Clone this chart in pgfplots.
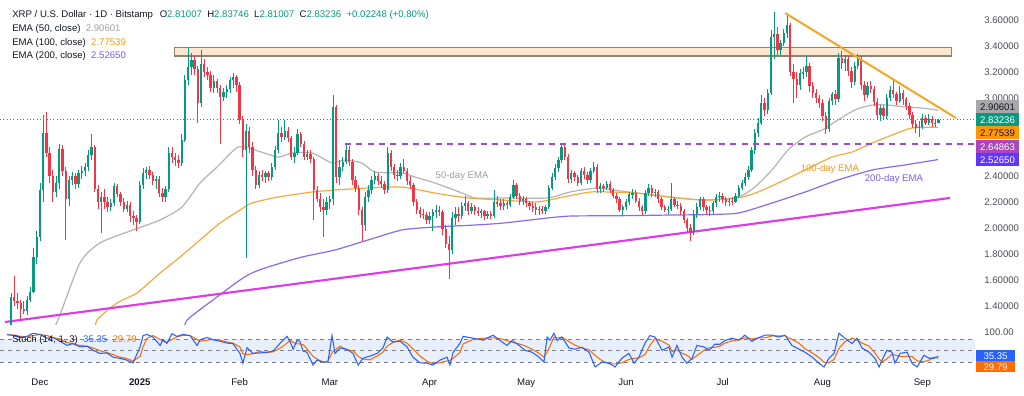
\documentclass[border=0pt]{standalone}
\usepackage{pgfplots}
\usepackage{pgfplotstable}
\pgfplotsset{compat=1.18}
\usepackage{fontspec}
\setmainfont{Liberation Sans}
\definecolor{upc}{HTML}{089981}
\definecolor{dnc}{HTML}{F23645}
\definecolor{ema50}{HTML}{B4B4B4}
\definecolor{ema100}{HTML}{F5AA3C}
\definecolor{ema200}{HTML}{8B6BEB}
\definecolor{magl}{HTML}{DD3BE8}
\definecolor{trendo}{HTML}{F5A623}
\definecolor{purd}{HTML}{9C4DCC}
\definecolor{zonef}{HTML}{FCE8D0}
\definecolor{zoned}{HTML}{8F8070}
\definecolor{txt}{HTML}{131722}
\definecolor{lab}{HTML}{4A4E59}
\definecolor{stk}{HTML}{2962FF}
\definecolor{std}{HTML}{FF6D00}
\definecolor{band}{HTML}{E8EFFD}
\definecolor{sepc}{HTML}{E0E3EB}
\definecolor{ema50t}{HTML}{A0A0A0}
\definecolor{ema100t}{HTML}{F29A1E}
\definecolor{ema200t}{HTML}{7B5CF0}
\definecolor{boxgray}{HTML}{A8A8AA}
\definecolor{boxorange}{HTML}{FF9800}
\definecolor{boxpurple}{HTML}{AB47BC}
\definecolor{boxblue}{HTML}{6236FF}
\newcommand\fs{\fontsize{7.2}{8.6}\selectfont}

\pgfplotstableread{
d o h l c
-9 1.12 1.50 1.10 1.47
-8 1.47 1.63 1.40 1.44
-7 1.44 1.50 1.38 1.42
-6 1.42 1.45 1.30 1.38
-5 1.38 1.44 1.34 1.36
-4 1.36 1.48 1.33 1.45
-3 1.45 1.55 1.43 1.51
-2 1.51 1.85 1.50 1.78
-1 1.78 1.98 1.72 1.93
0 1.93 2.35 1.90 2.29
1 2.29 2.87 2.20 2.73
2 2.73 2.89 2.55 2.58
3 2.58 2.62 2.35 2.40
4 2.40 2.45 2.20 2.28
5 2.28 2.40 2.24 2.35
6 2.35 2.65 2.30 2.61
7 2.61 2.64 2.40 2.44
8 2.44 2.47 1.91 2.22
9 2.22 2.40 2.17 2.37
10 2.37 2.43 2.33 2.40
11 2.40 2.42 2.30 2.34
12 2.34 2.45 2.31 2.42
13 2.42 2.48 2.38 2.44
14 2.44 2.50 2.40 2.47
15 2.47 2.60 2.44 2.56
16 2.56 2.72 2.52 2.62
17 2.62 2.64 2.28 2.30
18 2.30 2.33 2.15 2.20
19 2.20 2.28 1.96 2.24
20 2.24 2.30 2.15 2.20
21 2.20 2.24 2.12 2.16
22 2.16 2.22 2.13 2.19
23 2.19 2.35 2.17 2.32
24 2.32 2.34 2.24 2.26
25 2.26 2.28 2.17 2.20
26 2.20 2.23 2.12 2.15
27 2.15 2.21 2.12 2.18
28 2.18 2.20 2.05 2.09
29 2.09 2.13 2.02 2.08
30 2.08 2.10 1.98 2.05
31 2.05 2.36 2.03 2.33
32 2.33 2.46 2.30 2.42
33 2.42 2.47 2.38 2.45
34 2.45 2.48 2.38 2.41
35 2.41 2.43 2.33 2.36
36 2.36 2.40 2.30 2.38
37 2.38 2.40 2.24 2.27
38 2.27 2.31 2.20 2.24
39 2.24 2.32 2.20 2.30
40 2.30 2.62 2.28 2.58
41 2.58 2.62 2.50 2.55
42 2.55 2.58 2.48 2.52
43 2.52 2.56 2.46 2.50
44 2.50 2.72 2.48 2.68
45 2.68 3.18 2.66 3.14
46 3.14 3.39 3.10 3.24
47 3.24 3.35 3.18 3.29
48 3.29 3.32 3.18 3.22
49 3.22 3.25 2.81 2.96
50 2.96 3.37 2.93 3.26
51 3.26 3.30 3.16 3.20
52 3.20 3.24 3.14 3.18
53 3.18 3.21 3.05 3.08
54 3.08 3.18 3.04 3.13
55 3.13 3.15 3.04 3.08
56 3.08 3.10 2.65 3.01
57 3.01 3.08 2.98 3.05
58 3.05 3.10 3.00 3.07
59 3.07 3.16 3.04 3.14
60 3.14 3.19 3.08 3.16
61 3.16 3.18 3.05 3.10
62 3.10 3.12 2.80 2.83
63 2.83 2.86 2.55 2.60
64 2.60 2.80 1.77 2.75
65 2.75 2.78 2.58 2.62
66 2.62 2.66 2.40 2.45
67 2.45 2.48 2.30 2.33
68 2.33 2.44 2.31 2.41
69 2.41 2.45 2.36 2.39
70 2.39 2.44 2.35 2.42
71 2.42 2.44 2.36 2.39
72 2.39 2.50 2.37 2.47
73 2.47 2.63 2.45 2.60
74 2.60 2.83 2.58 2.73
75 2.73 2.78 2.66 2.70
76 2.70 2.83 2.68 2.75
77 2.75 2.78 2.66 2.69
78 2.69 2.71 2.52 2.55
79 2.55 2.62 2.50 2.58
80 2.58 2.76 2.56 2.72
81 2.72 2.74 2.62 2.65
82 2.65 2.67 2.52 2.55
83 2.55 2.60 2.52 2.57
84 2.57 2.60 2.50 2.53
85 2.53 2.55 2.06 2.29
86 2.29 2.32 2.20 2.22
87 2.22 2.27 2.12 2.16
88 2.16 2.22 1.93 2.14
89 2.14 2.24 2.10 2.20
90 2.20 2.25 2.15 2.22
91 2.22 3.02 2.18 2.93
92 2.93 2.95 2.35 2.39
93 2.39 2.52 2.33 2.47
94 2.47 2.55 2.44 2.51
95 2.51 2.65 2.49 2.60
96 2.60 2.63 2.48 2.51
97 2.51 2.53 2.33 2.37
98 2.37 2.40 2.28 2.31
99 2.31 2.33 2.10 2.14
100 2.14 2.16 1.90 2.02
101 2.02 2.28 1.98 2.24
102 2.24 2.33 2.20 2.29
103 2.29 2.40 2.26 2.37
104 2.37 2.44 2.34 2.40
105 2.40 2.42 2.33 2.36
106 2.36 2.40 2.31 2.34
107 2.34 2.36 2.26 2.29
108 2.29 2.62 2.27 2.58
109 2.58 2.60 2.44 2.47
110 2.47 2.49 2.38 2.41
111 2.41 2.45 2.36 2.40
112 2.40 2.50 2.38 2.47
113 2.47 2.53 2.42 2.44
114 2.44 2.46 2.33 2.36
115 2.36 2.40 2.30 2.33
116 2.33 2.35 2.17 2.20
117 2.20 2.22 2.11 2.14
118 2.14 2.16 2.08 2.11
119 2.11 2.15 2.07 2.10
120 2.10 2.12 2.03 2.06
121 2.06 2.12 2.03 2.09
122 2.09 2.15 1.98 2.12
123 2.12 2.18 2.08 2.14
124 2.14 2.17 2.09 2.12
125 2.12 2.14 1.95 1.99
126 1.99 2.02 1.85 1.88
127 1.88 1.94 1.61 1.83
128 1.83 2.12 1.80 2.08
129 2.08 2.16 2.02 2.11
130 2.11 2.16 2.05 2.09
131 2.09 2.20 2.07 2.17
132 2.17 2.25 2.13 2.19
133 2.19 2.21 2.10 2.13
134 2.13 2.19 2.11 2.16
135 2.16 2.18 2.10 2.13
136 2.13 2.16 2.09 2.12
137 2.12 2.15 2.08 2.13
138 2.13 2.14 2.06 2.09
139 2.09 2.13 2.07 2.11
140 2.11 2.13 2.07 2.09
141 2.09 2.29 2.08 2.20
142 2.20 2.25 2.16 2.19
143 2.19 2.22 2.14 2.17
144 2.17 2.22 2.14 2.19
145 2.19 2.21 2.15 2.18
146 2.18 2.26 2.16 2.24
147 2.24 2.37 2.22 2.33
148 2.33 2.35 2.22 2.25
149 2.25 2.27 2.18 2.21
150 2.21 2.25 2.18 2.22
151 2.22 2.24 2.16 2.19
152 2.19 2.21 2.14 2.17
153 2.17 2.20 2.12 2.16
154 2.16 2.19 2.10 2.14
155 2.14 2.17 2.10 2.15
156 2.15 2.17 2.11 2.13
157 2.13 2.18 2.11 2.16
158 2.16 2.33 2.15 2.31
159 2.31 2.42 2.29 2.39
160 2.39 2.49 2.37 2.46
161 2.46 2.55 2.43 2.52
162 2.52 2.65 2.50 2.62
163 2.62 2.65 2.52 2.55
164 2.55 2.57 2.35 2.38
165 2.38 2.45 2.35 2.42
166 2.42 2.44 2.36 2.39
167 2.39 2.41 2.32 2.35
168 2.35 2.46 2.33 2.44
169 2.44 2.47 2.38 2.41
170 2.41 2.43 2.34 2.37
171 2.37 2.46 2.35 2.44
172 2.44 2.51 2.42 2.47
173 2.47 2.49 2.27 2.30
174 2.30 2.35 2.27 2.32
175 2.32 2.34 2.28 2.31
176 2.31 2.36 2.29 2.34
177 2.34 2.36 2.27 2.29
178 2.29 2.31 2.23 2.25
179 2.25 2.27 2.19 2.22
180 2.22 2.24 2.12 2.14
181 2.14 2.18 2.10 2.16
182 2.16 2.22 2.14 2.20
183 2.20 2.28 2.18 2.26
184 2.26 2.30 2.22 2.27
185 2.27 2.29 2.19 2.21
186 2.21 2.23 2.13 2.16
187 2.16 2.18 2.10 2.13
188 2.13 2.29 2.11 2.27
189 2.27 2.34 2.25 2.31
190 2.31 2.33 2.24 2.27
191 2.27 2.30 2.24 2.28
192 2.28 2.29 2.19 2.22
193 2.22 2.24 2.14 2.16
194 2.16 2.18 2.12 2.14
195 2.14 2.17 2.11 2.15
196 2.15 2.35 2.13 2.22
197 2.22 2.24 2.16 2.18
198 2.18 2.21 2.15 2.17
199 2.17 2.19 2.10 2.13
200 2.13 2.15 2.04 2.06
201 2.06 2.08 1.96 2.00
202 2.00 2.03 1.90 1.97
203 1.97 2.14 1.95 2.10
204 2.10 2.19 2.08 2.16
205 2.16 2.24 2.14 2.22
206 2.22 2.24 2.13 2.16
207 2.16 2.18 2.10 2.14
208 2.14 2.17 2.09 2.13
209 2.13 2.21 2.11 2.19
210 2.19 2.26 2.16 2.24
211 2.24 2.28 2.20 2.25
212 2.25 2.27 2.19 2.22
213 2.22 2.24 2.17 2.20
214 2.20 2.23 2.17 2.21
215 2.21 2.24 2.18 2.20
216 2.20 2.27 2.19 2.25
217 2.25 2.33 2.23 2.31
218 2.31 2.37 2.29 2.35
219 2.35 2.42 2.32 2.39
220 2.39 2.48 2.37 2.45
221 2.45 2.62 2.43 2.60
222 2.60 2.76 2.57 2.73
223 2.73 2.85 2.70 2.81
224 2.81 3.02 2.79 2.96
225 2.96 3.00 2.86 2.91
226 2.91 3.07 2.88 3.04
227 3.04 3.52 3.02 3.47
228 3.47 3.66 3.30 3.49
229 3.49 3.55 3.32 3.37
230 3.37 3.45 3.33 3.42
231 3.42 3.53 3.40 3.50
232 3.50 3.65 3.46 3.56
233 3.56 3.58 3.17 3.20
234 3.20 3.26 2.96 3.15
235 3.15 3.20 3.00 3.10
236 3.10 3.22 3.06 3.19
237 3.19 3.24 3.15 3.20
238 3.20 3.32 3.16 3.25
239 3.25 3.27 3.05 3.09
240 3.09 3.12 3.00 3.04
241 3.04 3.07 2.96 3.00
242 3.00 3.02 2.92 2.96
243 2.96 2.99 2.82 2.86
244 2.86 2.89 2.72 2.76
245 2.76 3.00 2.74 2.98
246 2.98 3.05 2.95 3.03
247 3.03 3.06 2.95 2.99
248 2.99 3.35 2.97 3.31
249 3.31 3.36 3.22 3.27
250 3.27 3.33 3.21 3.30
251 3.30 3.32 3.17 3.21
252 3.21 3.24 3.08 3.12
253 3.12 3.28 3.10 3.25
254 3.25 3.34 3.22 3.30
255 3.30 3.32 3.06 3.10
256 3.10 3.13 2.98 3.02
257 3.02 3.12 3.00 3.09
258 3.09 3.13 3.04 3.07
259 3.07 3.09 2.94 2.97
260 2.97 3.00 2.84 2.87
261 2.87 2.95 2.82 2.92
262 2.92 2.95 2.83 2.86
263 2.86 3.03 2.84 3.00
264 3.00 3.09 2.98 3.06
265 3.06 3.14 3.00 3.03
266 3.03 3.05 2.95 2.98
267 2.98 3.09 2.96 3.04
268 3.04 3.06 2.95 2.99
269 2.99 3.01 2.91 2.94
270 2.94 2.96 2.84 2.87
271 2.87 2.89 2.77 2.80
272 2.80 2.83 2.73 2.77
273 2.77 2.82 2.70 2.78
274 2.78 2.88 2.76 2.85
275 2.85 2.87 2.79 2.81
276 2.81 2.88 2.79 2.84
277 2.84 2.86 2.78 2.81
278 2.80 2.84 2.78 2.81
279 2.81007 2.83746 2.81007 2.83236
}\ohlc

\pgfplotstableread{
d k dd
-10.2 93 92
-8.4 90 92
-6.2 85 88
-4.0 88 87
-2.2 96 90
0 93 93
2.2 83 90
4.0 85 85
6.2 75 81
8.4 64 72
10.2 69 68
12.4 60 64
14.6 62 62
16.5 51 57
18.6 43 50
20.8 44 45
22.7 33 40
24.8 30 33
27.0 25 29
28.9 18 23
31.1 60 35
32.0 90 60
33.2 93 83
35.1 86 90
37.3 64 80
38.2 79 75
39.4 69 72
41.0 95 80
42.5 88 86
44.4 93 91
46.6 90 90
48.8 64 80
49.7 79 75
51.9 85 78
53.7 79 80
55.9 75 78
58.1 70 73
59.9 69 70
62.1 43 60
63.0 17 42
64.3 58 40
66.1 43 42
68.3 44 48
70.5 46 45
72.4 49 47
74.5 69 56
76.7 88 70
77.6 75 78
78.6 54 72
79.8 77 68
80.7 75 68
81.7 49 66
82.9 46 55
84.8 12 35
86.0 25 28
87.9 20 20
89.4 20 22
90.7 90 45
91.6 43 52
93.2 57 62
95.3 54 52
97.2 43 50
98.8 12 35
100.3 30 28
102.5 36 26
104.7 43 36
106.5 57 46
107.8 86 62
109.6 73 72
111.8 75 78
114.0 60 70
115.8 33 55
118.0 18 36
120.2 17 22
122.0 12 16
124.2 25 18
126.4 33 23
127.3 12 24
128.3 46 30
130.4 69 45
131.4 88 68
134.5 83 80
137.6 78 83
140.7 91 84
142.9 77 82
145.0 64 77
146.6 77 72
148.8 64 68
150.6 51 63
152.8 46 54
155.0 33 43
156.5 20 33
157.5 86 46
158.4 78 62
159.6 96 86
160.6 77 84
162.1 86 86
164.3 57 74
166.1 54 65
168.3 59 57
170.5 46 53
172.4 7 37
174.5 20 24
176.7 17 15
178.6 7 15
180.7 30 18
182.9 43 27
184.5 17 30
186.0 33 31
187.9 70 40
189.4 90 64
191.0 86 82
193.2 51 75
195.3 60 65
196.3 33 48
197.8 64 52
199.4 33 43
200.9 17 38
202.5 30 27
204.0 64 37
206.2 60 51
207.8 51 58
209.6 67 59
211.2 67 62
212.7 77 70
214.9 83 76
217.1 78 79
218.9 91 84
221.1 75 81
223.3 85 84
225.2 91 84
227.3 91 89
229.5 86 89
231.4 91 89
233.5 64 80
235.7 54 70
237.6 46 55
239.8 33 44
241.9 17 32
243.5 7 19
245.0 30 18
246.6 43 27
248.1 96 56
250.0 83 74
252.2 69 83
253.7 83 78
255.3 57 70
257.5 46 62
259.3 30 44
260.6 7 28
261.5 25 21
263.0 51 28
264.6 46 41
265.5 17 38
267.1 43 35
269.3 46 35
270.8 17 35
272.4 7 23
274.5 38 21
276.1 30 25
277.6 30 33
279.0 35.35 29.79
}\stoch

\pgfplotsset{candle/.style={draw=none, mark=none, forget plot,
  error bars/y dir=both, error bars/y explicit, error bars/error mark=none}}

\begin{document}
\begin{tikzpicture}[x=0.75pt,y=0.75pt]
\path[use as bounding box] (0,0) rectangle (1024,396);
\fill[white] (0,0) rectangle (1024,396);

\begin{axis}[
  at={(0pt,297pt)}, anchor=north west,
  scale only axis, width=731.25pt, height=243.75pt,
  xmin=-12.42, xmax=290.37, ymin=1.254, ymax=3.754,
  axis line style={draw=none},
  major tick length=0pt,
  xtick=\empty,
  ytick={1.4,1.6,1.8,2.0,2.2,2.4,2.6,2.8,3.0,3.2,3.4,3.6},
  yticklabels={1.40000,1.60000,1.80000,2.00000,2.20000,2.40000,{},{},3.00000,3.20000,3.40000,3.60000},
  yticklabel pos=right,
  yticklabel style={anchor=west, xshift=3.5pt, font=\fs, text=lab},
]
\fill[zonef] (axis cs:41.9,3.323) rectangle (axis cs:283.2,3.392);
\draw[zoned, line width=0.8pt] (axis cs:41.9,3.323) rectangle (axis cs:283.2,3.392);
\draw[upc, dotted, line width=0.5pt] (axis cs:-12.42,2.8324) -- (axis cs:290.37,2.8324);

\addplot[ema50, line width=0.9pt, smooth, tension=0.4] coordinates {
(3.1,1.18) (5.6,1.292) (12.4,1.731) (18.6,1.885) (28.9,1.985) (37.3,2.062) (44.1,2.162) (49.7,2.346) (55.0,2.469) (61.5,2.623) (66.8,2.600) (73.9,2.546) (78.3,2.577) (84.5,2.577) (90.7,2.500) (94.7,2.523) (100.0,2.500) (104.0,2.431) (112.4,2.423) (116.5,2.392) (122.7,2.346) (131.1,2.269) (135.1,2.231) (143.8,2.231) (157.5,2.231) (164.6,2.277) (173.0,2.308) (178.0,2.292) (185.4,2.269) (195.7,2.238) (206.5,2.215) (216.8,2.238) (222.0,2.315) (227.3,2.446) (232.3,2.600) (237.6,2.700) (242.9,2.754) (247.8,2.831) (253.1,2.908) (258.4,2.946) (263.4,2.946) (268.6,2.931) (273.9,2.923) (278.9,2.906)};
\addplot[ema100, line width=0.9pt, smooth, tension=0.4] coordinates {
(17.1,1.177) (17.7,1.292) (23.9,1.423) (30.1,1.500) (37.3,1.654) (43.5,1.777) (49.7,1.908) (55.9,2.038) (62.1,2.138) (65.8,2.192) (73.9,2.238) (84.5,2.277) (91.6,2.292) (101.9,2.308) (112.4,2.315) (122.7,2.269) (132.9,2.231) (143.8,2.215) (154.3,2.200) (162.4,2.238) (170.8,2.277) (177.0,2.277) (185.4,2.269) (195.7,2.238) (206.5,2.215) (216.8,2.231) (223.0,2.277) (229.2,2.346) (237.6,2.446) (246.0,2.546) (252.2,2.585) (258.4,2.654) (264.6,2.715) (270.8,2.769) (278.9,2.775)};
\addplot[ema200, line width=0.9pt, smooth, tension=0.4] coordinates {
(44.4,1.177) (45.7,1.292) (53.7,1.446) (62.1,1.600) (65.8,1.654) (70.8,1.700) (81.4,1.777) (91.6,1.831) (101.9,1.908) (112.4,1.985) (122.7,2.008) (135.1,2.023) (143.8,2.038) (157.5,2.077) (164.6,2.092) (174.8,2.094) (185.4,2.096) (195.7,2.100) (206.5,2.103) (216.8,2.115) (227.3,2.192) (237.6,2.277) (247.8,2.369) (258.4,2.446) (268.6,2.485) (278.9,2.5265)};

\draw[magl, line width=1.6pt] (axis cs:-10.9,1.277) -- (axis cs:282.6,2.231);

% candles: wicks
\addplot[candle, restrict expr to domain={\thisrow{c}-\thisrow{o}}{0:10},
  error bars/error bar style={line width=0.6pt, draw=upc}]
  table[x=d, y expr={(\thisrow{h}+\thisrow{l})/2}, y error expr={(\thisrow{h}-\thisrow{l})/2}] {\ohlc};
\addplot[candle, restrict expr to domain={\thisrow{c}-\thisrow{o}}{-10:-0.000001},
  error bars/error bar style={line width=0.6pt, draw=dnc}]
  table[x=d, y expr={(\thisrow{h}+\thisrow{l})/2}, y error expr={(\thisrow{h}-\thisrow{l})/2}] {\ohlc};
% bodies
\addplot[candle, restrict expr to domain={\thisrow{c}-\thisrow{o}}{0:10},
  error bars/error bar style={line width=1.75pt, draw=upc}]
  table[x=d, y expr={(\thisrow{o}+\thisrow{c})/2}, y error expr={max(abs(\thisrow{c}-\thisrow{o})/2,0.004)}] {\ohlc};
\addplot[candle, restrict expr to domain={\thisrow{c}-\thisrow{o}}{-10:-0.000001},
  error bars/error bar style={line width=1.75pt, draw=dnc}]
  table[x=d, y expr={(\thisrow{o}+\thisrow{c})/2}, y error expr={max(abs(\thisrow{c}-\thisrow{o})/2,0.004)}] {\ohlc};

\draw[purd, line width=1.4pt, dash pattern=on 4.5pt off 4pt] (axis cs:94.7,2.6486) -- (axis cs:290.37,2.6486);
\draw[trendo, line width=1.5pt] (axis cs:231.4,3.654) -- (axis cs:284.5,2.846);

\node[font=\fs, text=ema50t] at (axis cs:131.1,2.40) {50-day EMA};
\node[font=\fs, text=ema100t] at (axis cs:245.3,2.454) {100-day EMA};
\node[font=\fs, text=ema200t] at (axis cs:265.2,2.377) {200-day EMA};

\draw[sepc, line width=0.6pt] (rel axis cs:0,0) -- (rel axis cs:1,0);
\end{axis}

\begin{axis}[
  at={(0pt,51.75pt)}, anchor=north west,
  scale only axis, width=731.25pt, height=35.25pt,
  xmin=-12.42, xmax=290.37, ymin=-11.6, ymax=112.7,
  axis line style={draw=none},
  major tick length=0pt,
  xtick={0,31,62,90,121,151,182,212,243,274},
  xticklabels={Dec,\textbf{2025},Feb,Mar,Apr,May,Jun,Jul,Aug,Sep},
  xticklabel style={font=\fs, text=txt},
  ytick={100}, yticklabels={100.00},
  yticklabel pos=right,
  yticklabel style={anchor=west, xshift=3.5pt, font=\fs, text=lab},
]
\fill[band] (axis cs:-12.42,20) rectangle (axis cs:290.37,80);
\draw[gray, line width=0.5pt, dash pattern=on 3pt off 3pt] (axis cs:-12.42,80) -- (axis cs:290.37,80);
\draw[gray, line width=0.5pt, dash pattern=on 3pt off 3pt] (axis cs:-12.42,50) -- (axis cs:290.37,50);
\draw[gray, line width=0.5pt, dash pattern=on 3pt off 3pt] (axis cs:-12.42,20) -- (axis cs:290.37,20);
\addplot[std, line width=0.8pt] table[x=d, y=dd] {\stoch};
\addplot[stk, line width=0.8pt] table[x=d, y=k] {\stoch};
\end{axis}

% header legend
\node[anchor=west, inner sep=0, font=\fs, text=txt] at (12,381) {XRP / U.S. Dollar · 1D · Bitstamp\hspace{5pt}O\textcolor{upc}{2.81007}\hspace{4pt}H\textcolor{upc}{2.83746}\hspace{4pt}L\textcolor{upc}{2.81007}\hspace{4pt}C\textcolor{upc}{2.83236}\hspace{4pt}\textcolor{upc}{+0.02248 (+0.80\%)}};
\node[anchor=west, inner sep=0, font=\fs, text=txt] at (12,367) {EMA (50, close)\hspace{4pt}\textcolor{ema50t}{2.90601}};
\node[anchor=west, inner sep=0, font=\fs, text=txt] at (12,353) {EMA (100, close)\hspace{4pt}\textcolor{ema100t}{2.77539}};
\node[anchor=west, inner sep=0, font=\fs, text=txt] at (12,340) {EMA (200, close)\hspace{4pt}\textcolor{ema200t}{2.52650}};
\node[anchor=west, inner sep=0, font=\fs, text=txt] at (12,56) {Stoch (14, 1, 3)\hspace{4pt}\textcolor{stk}{35.35}\hspace{4pt}\textcolor{std}{29.79}};

% right price boxes
\node[fill=boxgray, text=txt, font=\fs, minimum width=32.25pt, minimum height=9.75pt, inner sep=0] at (997.5,289) {2.90601};
\node[fill=upc, text=white, font=\fs, minimum width=32.25pt, minimum height=9.75pt, inner sep=0] at (997.5,276) {2.83236};
\node[fill=boxorange, text=txt, font=\fs, minimum width=32.25pt, minimum height=9.75pt, inner sep=0] at (997.5,263) {2.77539};
\node[fill=boxpurple, text=white, font=\fs, minimum width=32.25pt, minimum height=9.75pt, inner sep=0] at (997.5,249) {2.64863};
\node[fill=boxblue, text=white, font=\fs, minimum width=32.25pt, minimum height=9.75pt, inner sep=0] at (997.5,236) {2.52650};
\node[fill=stk, text=white, font=\fs, minimum width=29.25pt, minimum height=8.25pt, inner sep=0] at (995.5,40) {35.35};
\begin{scope}
\clip (970,24) rectangle (1024,36);
\node[fill=std, text=white, font=\fs, minimum width=29.25pt, minimum height=8.25pt, inner sep=0] at (995.5,29) {29.79};
\end{scope}
\end{tikzpicture}
\end{document}
